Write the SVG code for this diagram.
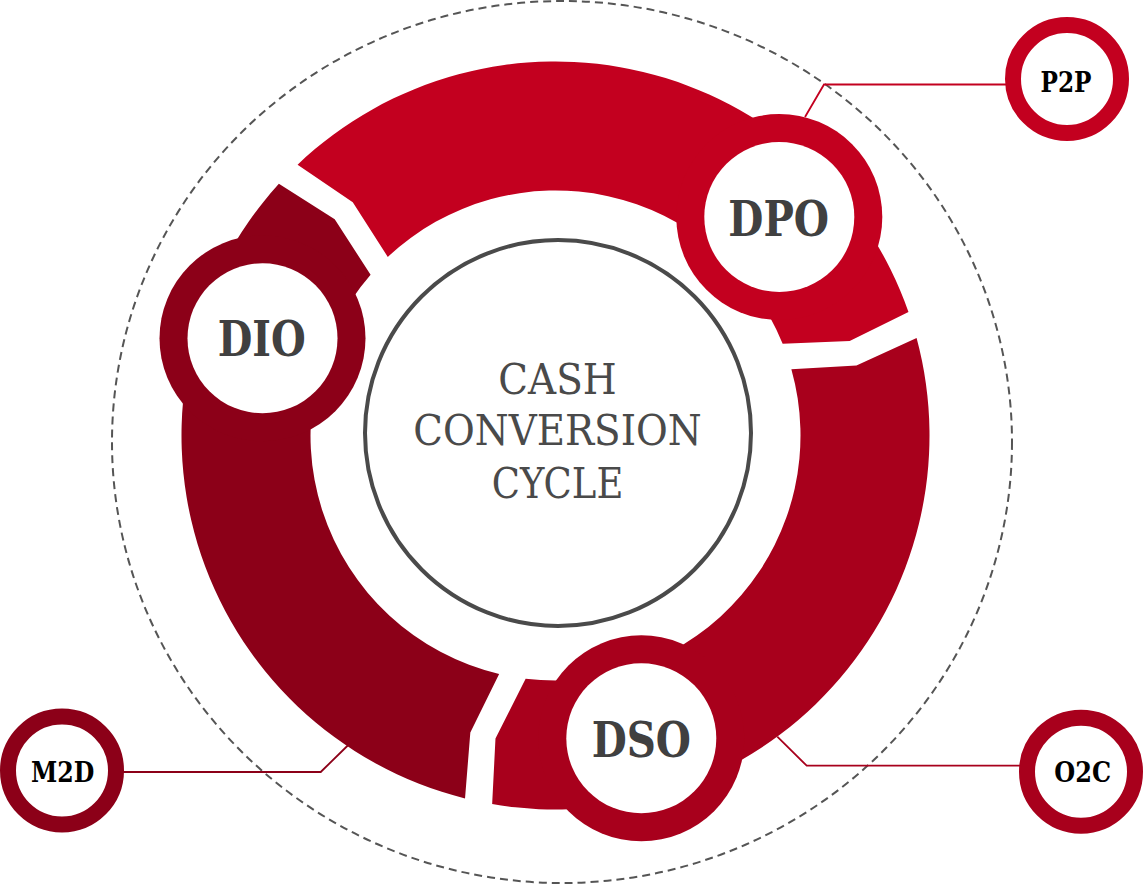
<svg xmlns="http://www.w3.org/2000/svg" width="1144" height="884" viewBox="0 0 1144 884">
<style>
.dio{fill:#8c0018}
.dpo{fill:#c3001f}
.dso{fill:#a8001c}
.hole{fill:#ffffff}
.big{font-family:"DejaVu Serif","Liberation Serif",serif;font-weight:bold;font-size:48px;fill:#404040;text-anchor:middle}
.small{font-family:"DejaVu Serif","Liberation Serif",serif;font-weight:bold;font-size:27px;fill:#000000;text-anchor:middle}
.center{font-family:"DejaVu Serif","Liberation Serif",serif;font-size:42px;fill:#4a4a4a;text-anchor:middle}
.ring{fill:#ffffff;stroke-width:16}
.conn{fill:none;stroke-width:1.8}
</style>
<rect width="1144" height="884" fill="#ffffff"/>
<ellipse id="dashed-boundary" cx="562" cy="442" rx="450" ry="441" fill="none" stroke="#555555" stroke-width="2" stroke-dasharray="8 5"/>
<g id="connectors">
<polyline class="conn" stroke="#c3001f" points="805,117 824,84.5 1006,84.5"/>
<polyline class="conn" stroke="#8c0018" points="348.3,745 320.7,772 123,772"/>
<polyline class="conn" stroke="#a8001c" points="777.3,736.7 806.7,765.7 1020,765.7"/>
</g>
<g id="DIO">
<path class="dio" d="M 465.02 798.39 A 374 374 0 0 1 278.88 183.79 L 334.73 219.30 L 370.60 274.77 A 245 245 0 0 0 499.14 673.93 L 470.33 732.53 Z"/>
<circle class="dio" cx="262.5" cy="338.3" r="103"/>
<circle class="hole" cx="262.5" cy="338.3" r="75"/>
<text class="big" x="261.7" y="355.7" textLength="88" lengthAdjust="spacingAndGlyphs">DIO</text>
</g>
<g id="DPO">
<path class="dpo" d="M 297.58 164.66 A 374 374 0 0 1 908.48 311.89 L 849.71 341.04 L 782.66 343.72 A 245 245 0 0 0 387.79 256.90 L 352.78 202.29 Z"/>
<circle class="dpo" cx="779.3" cy="217" r="103"/>
<circle class="hole" cx="779.3" cy="217" r="75"/>
<text class="big" x="778.7" y="235.7" textLength="100.7" lengthAdjust="spacingAndGlyphs">DPO</text>
</g>
<g id="DSO">
<path class="dso" d="M 916.59 338.07 A 374 374 0 0 1 492.16 804.10 L 495.48 738.62 L 525.64 678.67 A 245 245 0 0 0 791.36 369.20 L 856.46 365.47 Z"/>
<circle class="dso" cx="641.3" cy="738.3" r="103"/>
<circle class="hole" cx="641.3" cy="738.3" r="75"/>
<text class="big" x="641.3" y="756.7" textLength="99.3" lengthAdjust="spacingAndGlyphs">DSO</text>
</g>
<g id="center">
<circle cx="558" cy="433" r="193" fill="#ffffff" stroke="#4a4a4a" stroke-width="4"/>
<text class="center" x="557.5" y="394" textLength="118.4" lengthAdjust="spacingAndGlyphs">CASH</text>
<text class="center" x="557.5" y="445" textLength="288.3" lengthAdjust="spacingAndGlyphs">CONVERSION</text>
<text class="center" x="557.5" y="498.3" textLength="131.7" lengthAdjust="spacingAndGlyphs">CYCLE</text>
</g>
<g id="P2P">
<circle class="ring" stroke="#c3001f" cx="1067" cy="79" r="54"/>
<text class="small" x="1066" y="91.7" textLength="51" lengthAdjust="spacingAndGlyphs">P2P</text>
</g>
<g id="M2D">
<circle class="ring" stroke="#8c0018" cx="62" cy="770.5" r="54"/>
<text class="small" x="62.7" y="781.7" textLength="63.3" lengthAdjust="spacingAndGlyphs">M2D</text>
</g>
<g id="O2C">
<circle class="ring" stroke="#a8001c" cx="1081" cy="771.7" r="54"/>
<text class="small" x="1082.7" y="782" textLength="56.7" lengthAdjust="spacingAndGlyphs">O2C</text>
</g>
</svg>
